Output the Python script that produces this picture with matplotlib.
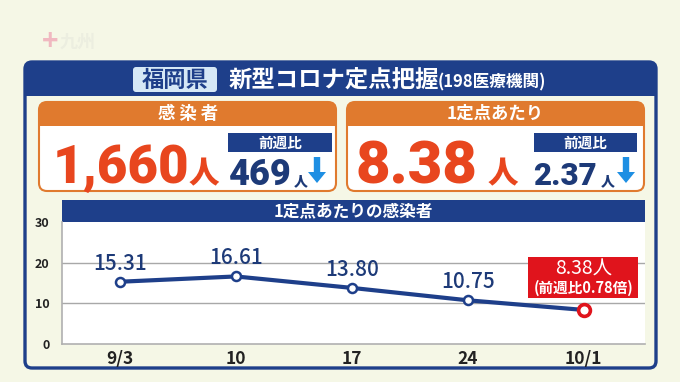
import matplotlib
matplotlib.use("Agg")
import matplotlib.pyplot as plt
from matplotlib.patches import FancyBboxPatch, Rectangle, Polygon

plt.rcParams['font.family'] = ['Noto Sans CJK JP', 'DejaVu Sans']
NUMFONT = ['Roboto', 'Noto Sans CJK JP', 'DejaVu Sans']

# ---- data ----
dates = ["9/3", "10", "17", "24", "10/1"]
per_site = [15.31, 16.61, 13.80, 10.75, 8.38]
y_ticks = [0, 10, 20, 30]
total_cases = "1,660"
total_diff = "469"
per_site_now = "8.38"
per_site_diff = "2.37"
ratio_text = "(前週比0.78倍)"

# ---- colours ----
BG = "#f5f7e6"
NAVY = "#1e3f8a"
ORANGE = "#e07a2e"
RED_TXT = "#e8461e"
NUM_NAVY = "#1d3a78"
ARROW = "#1e8fe3"
RED_BOX = "#e0141c"
LIGHTBLUE = "#d6e8f6"

W, H = 680, 382
fig = plt.figure(figsize=(W / 100, H / 100), dpi=100, facecolor=BG)
bg = fig.add_axes([0, 0, 1, 1])
bg.set_xlim(0, W)
bg.set_ylim(H, 0)
bg.axis("off")
bg.set_facecolor(BG)

def rrect(x0, y0, x1, y1, fc, ec="none", lw=0, r=6, z=1):
    p = FancyBboxPatch((x0 + r, y0 + r), (x1 - x0) - 2 * r, (y1 - y0) - 2 * r,
                       boxstyle=f"round,pad={r}", fc=fc, ec=ec, lw=lw, zorder=z,
                       mutation_aspect=1)
    bg.add_patch(p)
    return p

def rect(x0, y0, x1, y1, fc, z=2, ec="none", lw=0, target=None):
    (target or bg).add_patch(Rectangle((x0, y0), x1 - x0, y1 - y0, fc=fc, ec=ec, lw=lw, zorder=z))

def down_arrow(cx, y0, y1, hw=9, sw=3.2, hh=11, z=5):
    pts = [(cx - sw, y0), (cx + sw, y0), (cx + sw, y1 - hh), (cx + hw, y1 - hh),
           (cx, y1), (cx - hw, y1 - hh), (cx - sw, y1 - hh)]
    bg.add_patch(Polygon(pts, closed=True, fc=ARROW, ec="none", zorder=z))

# watermark
bg.text(50, 42, "+", color="#f0b8c0", fontsize=20, fontweight="bold", ha="center", va="center", zorder=1)
bg.text(78, 42, "九州", color="#eceee0", fontsize=13, fontweight="bold", ha="center", va="center", zorder=1)

# main panel
rrect(25, 62, 656, 368, fc=BG, ec=NAVY, lw=2.4, r=7, z=1)
# header band
rrect(25, 62, 656, 96, fc=NAVY, r=7, z=2)
rect(25, 84, 656, 96, fc=NAVY, z=2)
rrect(133, 67, 217, 92, fc=LIGHTBLUE, r=3, z=3)
bg.text(175, 80, "福岡県", color=NAVY, fontsize=16, fontweight="bold", ha="center", va="center", zorder=4)
bg.text(229, 80, "新型コロナ定点把握", color="white", fontsize=16.8, fontweight="bold", ha="left", va="center", zorder=4)
bg.text(438, 82, "(198医療機関)", color="white", fontsize=12, fontweight="bold", ha="left", va="center", zorder=4)

# ---- left card ----
rrect(39, 102, 336, 191, fc="white", ec=ORANGE, lw=1.5, r=8, z=2)
rrect(39, 102, 336, 126, fc=ORANGE, r=8, z=3)
rect(39, 116, 336, 126, fc=ORANGE, z=3)
bg.text(188, 114, "感 染 者", color="white", fontsize=12.5, fontweight="bold", ha="center", va="center", zorder=4)
bg.text(53, 183, total_cases, color=RED_TXT, fontsize=38, fontweight="black", family=NUMFONT,
        ha="left", va="baseline", zorder=4)
bg.text(189, 183, "人", color=RED_TXT, fontsize=22, fontweight="black", ha="left", va="baseline", zorder=4)
rect(228, 133, 332, 152, fc=NAVY, z=3)
bg.text(280, 142.5, "前週比", color="white", fontsize=10.5, fontweight="bold", ha="center", va="center", zorder=4)
bg.text(229, 185, total_diff, color=NUM_NAVY, fontsize=26, fontweight="black", family=NUMFONT,
        ha="left", va="baseline", zorder=4)
bg.text(294, 185, "人", color=NUM_NAVY, fontsize=10, fontweight="black", ha="left", va="baseline", zorder=4)
down_arrow(317, 157, 183)

# ---- right card ----
rrect(347, 102, 644, 191, fc="white", ec=ORANGE, lw=1.5, r=8, z=2)
rrect(347, 102, 644, 126, fc=ORANGE, r=8, z=3)
rect(347, 116, 644, 126, fc=ORANGE, z=3)
bg.text(495, 114, "1定点あたり", color="white", fontsize=12.5, fontweight="bold", ha="center", va="center", zorder=4)
bg.text(355, 183, per_site_now, color=RED_TXT, fontsize=43, fontweight="black", family=NUMFONT,
        ha="left", va="baseline", zorder=4)
bg.text(488, 183, "人", color=RED_TXT, fontsize=22, fontweight="black", ha="left", va="baseline", zorder=4)
rect(534, 133, 637, 152, fc=NAVY, z=3)
bg.text(585.5, 142.5, "前週比", color="white", fontsize=10.5, fontweight="bold", ha="center", va="center", zorder=4)
bg.text(533, 185, per_site_diff, color=NUM_NAVY, fontsize=22.5, fontweight="black", family=NUMFONT,
        ha="left", va="baseline", zorder=4)
bg.text(601, 185, "人", color=NUM_NAVY, fontsize=10, fontweight="black", ha="left", va="baseline", zorder=4)
down_arrow(626, 157, 183)

# ---- chart ----
rect(62, 200, 645, 222, fc=NAVY, z=2)
bg.text(353, 211, "1定点あたりの感染者", color="white", fontsize=12, fontweight="bold", ha="center", va="center", zorder=4)

L, R, T, B = 62, 645, 222, 344
ax = fig.add_axes([L / W, 1 - B / H, (R - L) / W, (B - T) / H])
ax.set_facecolor("white")
x = list(range(len(dates)))
ax.set_xlim(-0.5, 4.53)
ax.set_ylim(0, 30)
for s in ["top", "right"]:
    ax.spines[s].set_visible(False)
for s in ["left", "bottom"]:
    ax.spines[s].set_color("#b0b0b0")
    ax.spines[s].set_linewidth(1.2)
for yv in [10, 20]:
    ax.axhline(yv, color="#a8a8a8", lw=1.0, zorder=1)
ax.set_yticks(y_ticks)
ax.set_yticklabels([str(v) for v in y_ticks], fontsize=9, fontweight="bold", color="#222222")
ax.set_xticks(x)
ax.set_xticklabels(dates, fontsize=12.5, fontweight="bold", color="#222222")
ax.tick_params(axis="both", length=0)
ax.tick_params(axis="y", pad=9)
ax.tick_params(axis="x", pad=4)

ax.plot(x, per_site, color=NAVY, lw=3.0, zorder=3, solid_capstyle="round")
ax.plot(x[:-1], per_site[:-1], "o", ms=6.5, mfc="white", mec=NAVY, mew=1.8, zorder=4)
ax.plot(x[-1:], per_site[-1:], "o", ms=8.5, mfc="white", mec=RED_BOX, mew=2.6, zorder=5, clip_on=False)

for xi, v in zip(x[:-1], per_site[:-1]):
    ax.annotate(f"{v:.2f}", (xi, v), xytext=(0, 13), textcoords="offset points",
                ha="center", va="center", fontsize=15, fontweight="medium",
                color=NUM_NAVY, zorder=6)

# overlay layer (above the chart axes) for the red callout
ov = fig.add_axes([0, 0, 1, 1])
ov.set_xlim(0, W)
ov.set_ylim(H, 0)
ov.axis("off")
rect(528, 257, 638, 298, fc=RED_BOX, z=5, target=ov)
ov.text(584, 269, f"{per_site[-1]:.2f}人", color="white", fontsize=14, ha="center", va="center", zorder=6)
ov.text(584, 288, ratio_text, color="white", fontsize=10.5, fontweight="bold", ha="center", va="center", zorder=6)

fig.savefig("out.png", dpi=100, facecolor=BG)
